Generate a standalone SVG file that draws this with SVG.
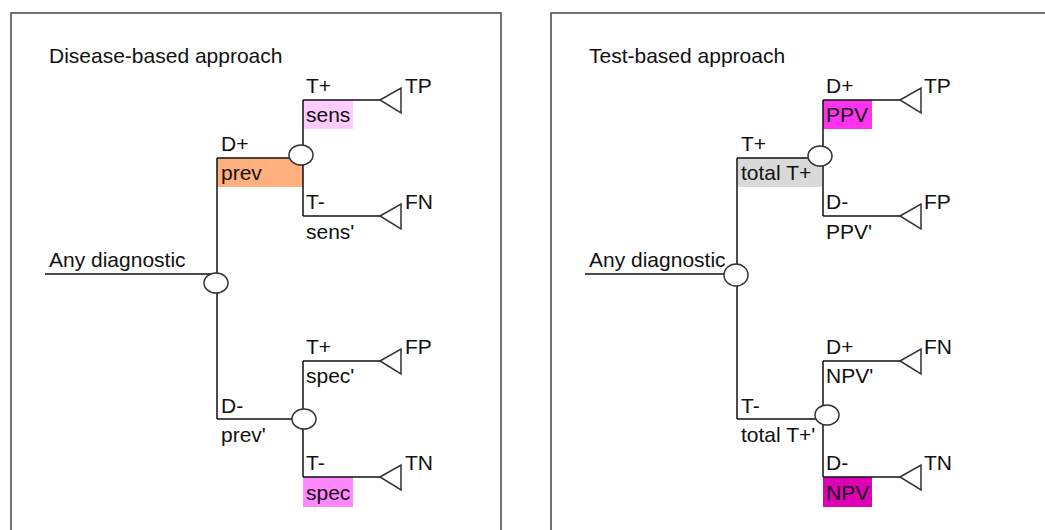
<svg xmlns="http://www.w3.org/2000/svg" width="1045" height="530" viewBox="0 0 1045 530">
<style>
text{font-family:"Liberation Sans",Arial,sans-serif;font-size:21px;fill:#111}
.ln{stroke:#111;stroke-width:1.5;fill:none}
.ch{stroke:#333;stroke-width:1.5;fill:#fff}
.tri{stroke:#333;stroke-width:1.5;fill:#fff;stroke-linejoin:miter}
.panel{stroke:#444;stroke-width:1.5;fill:#fff}
</style>
<defs>
<polygon id="term" points="0,0 21,-12 21,13" class="tri"/>
</defs>
<rect class="panel" x="11" y="13" width="490" height="530"/>
<rect class="panel" x="551" y="13" width="510" height="530"/>
<text x="49" y="63">Disease-based approach</text>
<text x="589" y="63">Test-based approach</text>

<g id="shading">
<rect x="217" y="158" width="86" height="29" fill="#FFB07C"/>
<rect x="303" y="100" width="50" height="29" fill="#FFCCFF"/>
<rect x="303" y="477" width="50" height="30" fill="#FF88FF"/>
<rect x="737" y="158" width="85" height="29" fill="#D9D9D9"/>
<rect x="823" y="100" width="49" height="29" fill="#FF33EE"/>
<rect x="823" y="477" width="49" height="30" fill="#DD00B4"/>
</g>

<g id="connectors">
<path class="ln" d="M45,274H217M217,158V419M217,158H301M217,419H304"/>
<path class="ln" d="M303,100V216M303,100H380M303,216H380"/>
<path class="ln" d="M303,361V477M303,361H380M303,477H380"/>
<path class="ln" d="M585,274H737M737,158V419M737,158H820M737,419H826"/>
<path class="ln" d="M823,100V216M823,100H900M823,216H900"/>
<path class="ln" d="M823,361V477M823,361H900M823,477H900"/>
</g>

<g id="left-root"><ellipse class="ch" cx="216" cy="283" rx="12" ry="10"/><text x="49" y="267">Any diagnostic</text></g>
<g id="left-dplus"><ellipse class="ch" cx="301" cy="155" rx="12" ry="10"/><text x="221" y="151">D+</text><text x="221" y="180">prev</text></g>
<g id="left-dminus"><ellipse class="ch" cx="304" cy="419" rx="12" ry="10"/><text x="221" y="413">D-</text><text x="221" y="442">prev'</text></g>
<g id="left-tp"><use href="#term" x="380" y="100"/><text x="306" y="93">T+</text><text x="306" y="122">sens</text><text x="405" y="93">TP</text></g>
<g id="left-fn"><use href="#term" x="380" y="216"/><text x="306" y="209">T-</text><text x="306" y="239">sens'</text><text x="405" y="209">FN</text></g>
<g id="left-fp"><use href="#term" x="380" y="361"/><text x="306" y="354">T+</text><text x="306" y="383">spec'</text><text x="405" y="354">FP</text></g>
<g id="left-tn"><use href="#term" x="380" y="477"/><text x="306" y="470">T-</text><text x="306" y="500">spec</text><text x="405" y="470">TN</text></g>

<g id="right-root"><ellipse class="ch" cx="736" cy="275" rx="12" ry="11"/><text x="589" y="267">Any diagnostic</text></g>
<g id="right-tplus"><ellipse class="ch" cx="820" cy="156" rx="12" ry="10"/><text x="741" y="151">T+</text><text x="741" y="180">total T+</text></g>
<g id="right-tminus"><ellipse class="ch" cx="827" cy="415" rx="12" ry="10"/><text x="741" y="413">T-</text><text x="741" y="442">total T+'</text></g>
<g id="right-tp"><use href="#term" x="900" y="100"/><text x="826" y="93">D+</text><text x="826" y="122">PPV</text><text x="924" y="93">TP</text></g>
<g id="right-fp"><use href="#term" x="900" y="216"/><text x="826" y="209">D-</text><text x="826" y="239">PPV'</text><text x="924" y="209">FP</text></g>
<g id="right-fn"><use href="#term" x="900" y="361"/><text x="826" y="354">D+</text><text x="826" y="383">NPV'</text><text x="924" y="354">FN</text></g>
<g id="right-tn"><use href="#term" x="900" y="477"/><text x="826" y="470">D-</text><text x="826" y="500">NPV</text><text x="924" y="470">TN</text></g>
</svg>
